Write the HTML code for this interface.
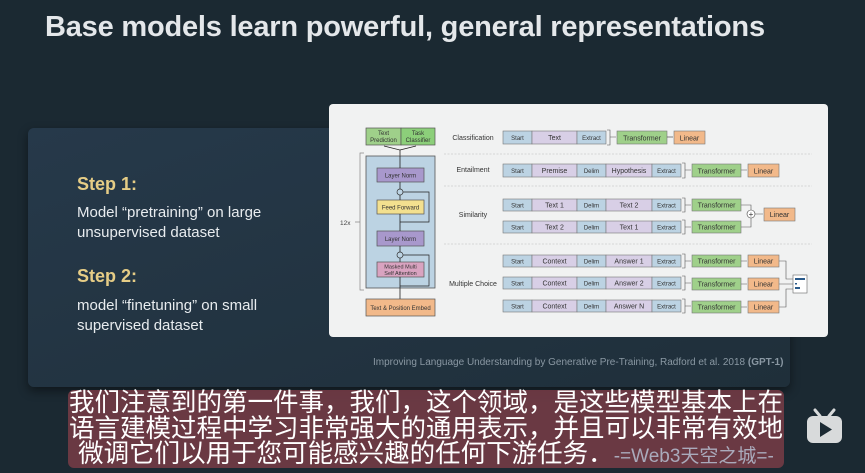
<!DOCTYPE html>
<html><head><meta charset="utf-8"><style>
html,body{margin:0;padding:0;}
body{width:865px;height:473px;overflow:hidden;background:#1b2932;position:relative;font-family:"Liberation Sans",sans-serif;}
.title{position:absolute;left:45px;top:11px;font-size:29px;color:#e4e7ea;white-space:nowrap;font-weight:bold;letter-spacing:-0.2px;}
.card{position:absolute;left:28px;top:128px;width:762px;height:259px;background:linear-gradient(160deg,#26394a,#1f2f3a);border-radius:6px;box-shadow:0 4px 10px rgba(0,0,0,0.45);}
.step{position:absolute;left:77px;color:#e6cd86;font-size:18px;font-weight:bold;}
.body{position:absolute;left:77px;color:#e8ecef;font-size:15px;line-height:20px;}
.cap{position:absolute;left:373px;top:357px;font-size:10px;color:#8a98a3;white-space:nowrap;}
.sub{position:absolute;left:68px;top:390px;width:716px;height:78px;background:rgba(120,60,70,0.85);border-radius:6px;}
.subt{position:absolute;left:68px;top:391px;width:716px;text-align:center;color:#fff;font-size:25.5px;line-height:25.5px;font-family:"Liberation Sans","Noto Sans CJK SC",sans-serif;}
</style></head><body>
<div class="title">Base models learn powerful, general representations</div>
<div class="card"></div>
<div class="step" style="top:174px">Step 1:</div>
<div class="body" style="top:203px">Model “pretraining” on large<br>unsupervised dataset</div>
<div class="step" style="top:266px">Step 2:</div>
<div class="body" style="top:296px">model “finetuning” on small<br>supervised dataset</div>
<div class="cap">Improving Language Understanding by Generative Pre-Training, Radford et al. 2018 <b>(GPT-1)</b></div>
<svg style="position:absolute;left:0;top:0" width="865" height="473" font-family="Liberation Sans, sans-serif">
<rect x="329" y="104" width="499" height="233" rx="4" fill="#f1f2f2"/>
<rect x="366" y="128" width="35" height="17" fill="#9fd08a" stroke="#555" stroke-width="0.7"/>
<rect x="401" y="128" width="34" height="17" fill="#8ccf7a" stroke="#555" stroke-width="0.7"/>
<text x="383.5" y="135" font-size="6" text-anchor="middle" fill="#333">Text</text><text x="383.5" y="142" font-size="6" text-anchor="middle" fill="#333">Prediction</text>
<text x="418" y="135" font-size="6" text-anchor="middle" fill="#333">Task</text><text x="418" y="142" font-size="6" text-anchor="middle" fill="#333">Classifier</text>
<path d="M400,156V150L384,146M400,150L416,146" stroke="#222" fill="none" stroke-width="0.8"/>
<rect x="366" y="156" width="69" height="132" fill="#bcd3e3" stroke="#555" stroke-width="0.8"/>
<path d="M364,153H360V290H364M360,222H355" stroke="#888" fill="none" stroke-width="0.7"/>
<text x="340" y="225" font-size="6.5" fill="#444">12x</text>
<rect x="377" y="168" width="47" height="14" fill="#a898cc" stroke="#555" stroke-width="0.7"/><text x="400.5" y="177.5" font-size="6" text-anchor="middle" fill="#333">Layer Norm</text>
<circle cx="400" cy="192" r="3" fill="none" stroke="#333" stroke-width="0.7"/>
<rect x="377" y="200" width="47" height="14" fill="#f3e08f" stroke="#555" stroke-width="0.7"/><text x="400.5" y="209.5" font-size="6" text-anchor="middle" fill="#333">Feed Forward</text>
<rect x="377" y="231" width="47" height="15" fill="#a898cc" stroke="#555" stroke-width="0.7"/><text x="400.5" y="241" font-size="6" text-anchor="middle" fill="#333">Layer Norm</text>
<circle cx="400" cy="255" r="3" fill="none" stroke="#333" stroke-width="0.7"/>
<rect x="377" y="262" width="47" height="15" fill="#d9a3c0" stroke="#555" stroke-width="0.7"/><text x="400.5" y="268.5" font-size="5.5" text-anchor="middle" fill="#333">Masked Multi</text><text x="400.5" y="275" font-size="5.5" text-anchor="middle" fill="#333">Self Attention</text>
<path d="M400,299V277M400,262V258M400,252V246M400,231V214M400,200V195M400,189V182M400,168V156" stroke="#222" stroke-width="0.8" fill="none"/>
<path d="M400,222H429V192H403M400,286H429V255H403" stroke="#222" stroke-width="0.7" fill="none"/>
<rect x="366" y="299" width="69" height="17" fill="#f2b98a" stroke="#555" stroke-width="0.7"/><text x="400.5" y="310" font-size="6" text-anchor="middle" fill="#333">Text &amp; Position Embed</text>
<g stroke="#ccc" stroke-dasharray="2,1.5" stroke-width="0.8"><path d="M444,154H812M444,186H812M444,244H812"/></g>
<g font-size="7" fill="#333" text-anchor="middle">
<text x="473" y="140">Classification</text><text x="473" y="172">Entailment</text><text x="473" y="217">Similarity</text><text x="473" y="286">Multiple Choice</text>
</g>
<g stroke="#777" stroke-width="0.6">
<rect x="503" y="131" width="29" height="13" fill="#bcd3e3"/><rect x="532" y="131" width="45" height="13" fill="#d8cfe6"/><rect x="577" y="131" width="29" height="13" fill="#bcd3e3"/>
</g>
<g font-size="6" text-anchor="middle" fill="#333"><text x="517.5" y="140">Start</text><text x="554.5" y="140" font-size="7">Text</text><text x="591.5" y="140">Extract</text></g>
<path d="M607,130H610V145H607M610,137H616" stroke="#555" fill="none" stroke-width="0.6"/>
<rect x="617" y="131" width="50" height="13" fill="#9fd08a" stroke="#777" stroke-width="0.6"/><text x="642" y="140.5" font-size="7" text-anchor="middle" fill="#333">Transformer</text>
<path d="M667,137H673" stroke="#333" stroke-width="0.6"/>
<rect x="674" y="131" width="31" height="13" fill="#f2b98a" stroke="#777" stroke-width="0.6"/><text x="689.5" y="140.5" font-size="7" text-anchor="middle" fill="#333">Linear</text>
<g stroke="#777" stroke-width="0.6">
<rect x="503" y="164" width="29" height="13" fill="#bcd3e3"/><rect x="532" y="164" width="45" height="13" fill="#d8cfe6"/><rect x="577" y="164" width="29" height="13" fill="#bcd3e3"/><rect x="606" y="164" width="46" height="13" fill="#d8cfe6"/><rect x="652" y="164" width="29" height="13" fill="#bcd3e3"/>
<rect x="503" y="199" width="29" height="12" fill="#bcd3e3"/><rect x="532" y="199" width="45" height="12" fill="#d8cfe6"/><rect x="577" y="199" width="29" height="12" fill="#bcd3e3"/><rect x="606" y="199" width="46" height="12" fill="#d8cfe6"/><rect x="652" y="199" width="29" height="12" fill="#bcd3e3"/>
<rect x="503" y="221" width="29" height="12" fill="#bcd3e3"/><rect x="532" y="221" width="45" height="12" fill="#d8cfe6"/><rect x="577" y="221" width="29" height="12" fill="#bcd3e3"/><rect x="606" y="221" width="46" height="12" fill="#d8cfe6"/><rect x="652" y="221" width="29" height="12" fill="#bcd3e3"/>
<rect x="503" y="255" width="29" height="12" fill="#bcd3e3"/><rect x="532" y="255" width="45" height="12" fill="#d8cfe6"/><rect x="577" y="255" width="29" height="12" fill="#bcd3e3"/><rect x="606" y="255" width="46" height="12" fill="#d8cfe6"/><rect x="652" y="255" width="29" height="12" fill="#bcd3e3"/>
<rect x="503" y="277" width="29" height="12" fill="#bcd3e3"/><rect x="532" y="277" width="45" height="12" fill="#d8cfe6"/><rect x="577" y="277" width="29" height="12" fill="#bcd3e3"/><rect x="606" y="277" width="46" height="12" fill="#d8cfe6"/><rect x="652" y="277" width="29" height="12" fill="#bcd3e3"/>
<rect x="503" y="300" width="29" height="12" fill="#bcd3e3"/><rect x="532" y="300" width="45" height="12" fill="#d8cfe6"/><rect x="577" y="300" width="29" height="12" fill="#bcd3e3"/><rect x="606" y="300" width="46" height="12" fill="#d8cfe6"/><rect x="652" y="300" width="29" height="12" fill="#bcd3e3"/>
</g>
<g font-size="6" text-anchor="middle" fill="#333">
<text x="517.5" y="173">Start</text><text x="554.5" y="173" font-size="7">Premise</text><text x="591.5" y="173">Delim</text><text x="629" y="173" font-size="7">Hypothesis</text><text x="666.5" y="173">Extract</text>
<text x="517.5" y="207.5">Start</text><text x="554.5" y="207.5" font-size="7">Text 1</text><text x="591.5" y="207.5">Delim</text><text x="629" y="207.5" font-size="7">Text 2</text><text x="666.5" y="207.5">Extract</text>
<text x="517.5" y="229.5">Start</text><text x="554.5" y="229.5" font-size="7">Text 2</text><text x="591.5" y="229.5">Delim</text><text x="629" y="229.5" font-size="7">Text 1</text><text x="666.5" y="229.5">Extract</text>
<text x="517.5" y="263.5">Start</text><text x="554.5" y="263.5" font-size="7">Context</text><text x="591.5" y="263.5">Delim</text><text x="629" y="263.5" font-size="7">Answer 1</text><text x="666.5" y="263.5">Extract</text>
<text x="517.5" y="285.5">Start</text><text x="554.5" y="285.5" font-size="7">Context</text><text x="591.5" y="285.5">Delim</text><text x="629" y="285.5" font-size="7">Answer 2</text><text x="666.5" y="285.5">Extract</text>
<text x="517.5" y="308.5">Start</text><text x="554.5" y="308.5" font-size="7">Context</text><text x="591.5" y="308.5">Delim</text><text x="629" y="308.5" font-size="7">Answer N</text><text x="666.5" y="308.5">Extract</text>
</g>
<g stroke="#555" fill="none" stroke-width="0.6">
<path d="M682,163H685V178H682M685,170H691"/><path d="M682,198H685V212H682M685,205H691"/><path d="M682,220H685V234H682M685,227H691"/>
<path d="M682,254H685V268H682M685,261H691"/><path d="M682,276H685V290H682M685,283H691"/><path d="M682,299H685V313H682M685,306H691"/>
<path d="M741,170H747M741,261H747M741,284H747M741,307H747"/>
<path d="M741,205H751V210M741,227H751V218M755,214H763"/>
<path d="M779,261H786V279H793M779,284H793M779,307H786V289H793"/>
</g>
<g stroke="#777" stroke-width="0.6" fill="#9fd08a">
<rect x="692" y="164" width="49" height="13"/><rect x="692" y="199" width="49" height="12"/><rect x="692" y="221" width="49" height="12"/><rect x="692" y="255" width="49" height="12"/><rect x="692" y="278" width="49" height="12"/><rect x="692" y="301" width="49" height="12"/>
</g>
<g stroke="#777" stroke-width="0.6" fill="#f2b98a">
<rect x="748" y="164" width="31" height="13"/><rect x="764" y="208" width="31" height="13"/><rect x="748" y="255" width="31" height="12"/><rect x="748" y="278" width="31" height="12"/><rect x="748" y="301" width="31" height="12"/>
</g>
<g font-size="7" text-anchor="middle" fill="#333">
<text x="716.5" y="173.5">Transformer</text><text x="716.5" y="207.5">Transformer</text><text x="716.5" y="229.5">Transformer</text><text x="716.5" y="263.5">Transformer</text><text x="716.5" y="286.5">Transformer</text><text x="716.5" y="309.5">Transformer</text>
<text x="763.5" y="173.5">Linear</text><text x="779.5" y="217">Linear</text><text x="763.5" y="263.5">Linear</text><text x="763.5" y="286.5">Linear</text><text x="763.5" y="309.5">Linear</text>
</g>
<circle cx="751" cy="214" r="4" fill="#fff" stroke="#444" stroke-width="0.6"/><text x="751" y="217" font-size="8" text-anchor="middle" fill="#333">+</text>
<rect x="793" y="275" width="14" height="18" fill="#fff" stroke="#666" stroke-width="0.6"/>
<rect x="795" y="278" width="10" height="2" fill="#2a5a8a"/><rect x="795" y="283" width="2" height="1.5" fill="#2a5a8a"/><rect x="795" y="287" width="5" height="2" fill="#2a5a8a"/>
<rect x="807" y="416" width="35" height="27" rx="6" fill="#d8dadb"/>
<path d="M815,410L820,416M834,410L829,416" stroke="#d8dadb" stroke-width="3" stroke-linecap="round"/>
<path d="M820,422L820,437L832,429.5z" fill="#1b2932"/>
</svg>
<div class="sub"></div>
<div class="subt">我们注意到的第一件事，我们，这个领域，是这些模型基本上在<br>语言建模过程中学习非常强大的通用表示，并且可以非常有效地<br>微调它们以用于您可能感兴趣的任何下游任务．<span style="color:#aab;font-size:19px">-=Web3天空之城=-</span></div>
</body></html>
